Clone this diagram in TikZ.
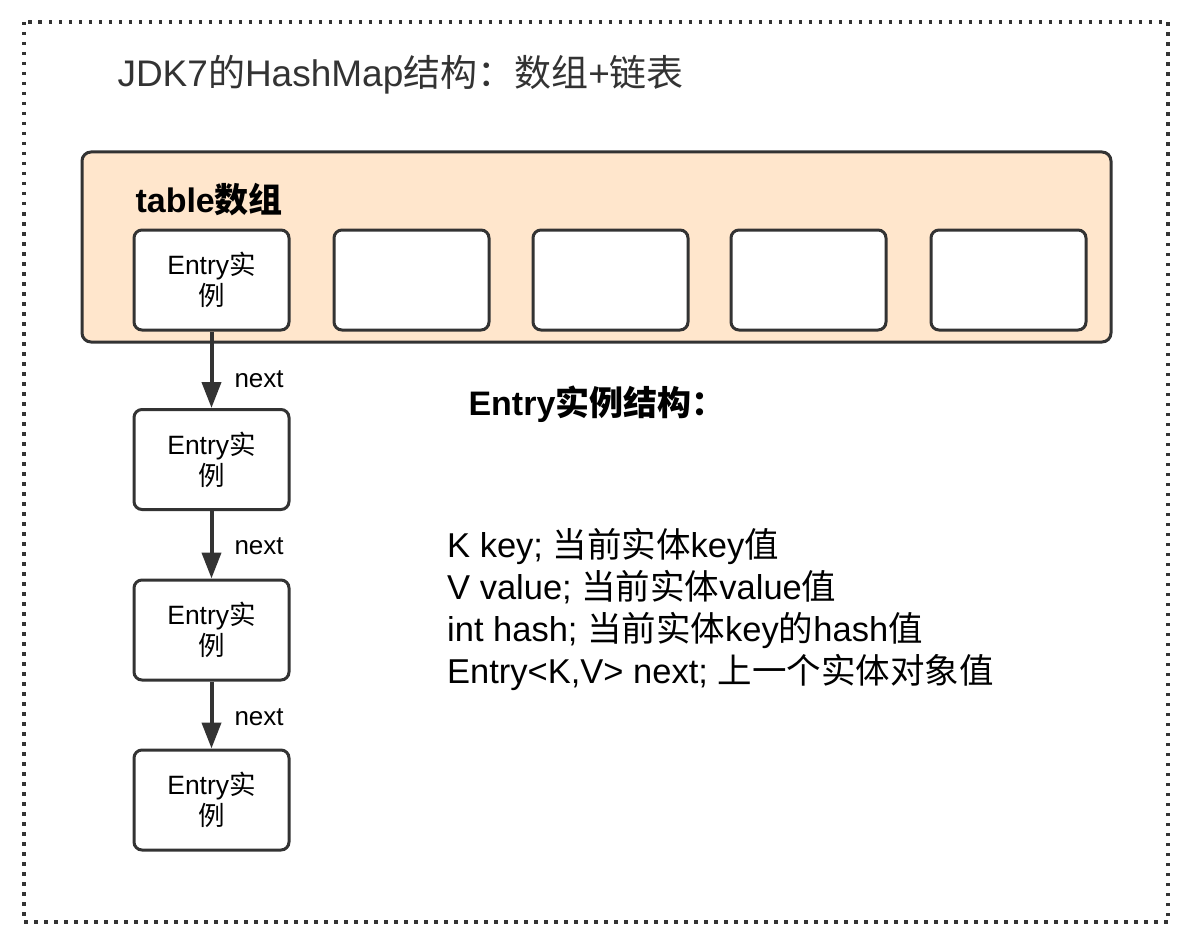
\documentclass[tikz,border=0pt]{standalone}
\usepackage{fontspec}
\setmainfont{Liberation Sans}
\newfontfamily\cjk{Noto Sans CJK SC}
\usetikzlibrary{arrows.meta}
\definecolor{ink}{HTML}{333333}
\definecolor{peach}{HTML}{FFE6CC}
\newcommand{\zh}[1]{{\cjk #1}}
\begin{document}
\begin{tikzpicture}[x=1pt,y=-1pt,
  entrybox/.style={draw=ink,line width=3pt,rounded corners=8pt,fill=white,
    minimum width=155pt,minimum height=100pt,align=center,
    font=\fontsize{26.5}{31}\selectfont,text=black},
  link/.style={draw=ink,line width=4pt,-{Triangle[length=26pt,width=19pt]}},
  nextlbl/.style={font=\fontsize{26}{28}\selectfont,text=black,anchor=west}]
\useasboundingbox (0,0) rectangle (1196,952);
\fill[white] (0,0) rectangle (1196,952);
\draw[ink,line width=3.5pt,dash pattern=on 3.5pt off 6.5pt] (24,22) rectangle (1168,922);
\node[anchor=west,font=\fontsize{37}{42}\selectfont,text=ink] (title) at (114,75)
  {JDK7\zh{的}HashMap\zh{结构：数组}+\zh{链表}};
\draw[ink,line width=3pt,fill=peach,rounded corners=9pt] (82,152) rectangle (1111,342);
\node[anchor=west,font=\bfseries\fontsize{34}{38}\selectfont,text=black] (tlabel) at (132,200)
  {table\zh{\bfseries 数组}};
\node[entrybox] (e0) at (211.5,280) {Entry\zh{实}\\\zh{例}};
\node[entrybox] (e1) at (411.5,280) {};
\node[entrybox] (e2) at (610.5,280) {};
\node[entrybox] (e3) at (808.5,280) {};
\node[entrybox] (e4) at (1008.5,280) {};
\node[entrybox] (c1) at (211.5,459.5) {Entry\zh{实}\\\zh{例}};
\node[entrybox] (c2) at (211.5,630) {Entry\zh{实}\\\zh{例}};
\node[entrybox] (c3) at (211.5,800) {Entry\zh{实}\\\zh{例}};
\draw[link] (e0) -- (c1);
\draw[link] (c1) -- (c2);
\draw[link] (c2) -- (c3);
\node[nextlbl] (n1) at (231,379) {next};
\node[nextlbl] (n2) at (231,546) {next};
\node[nextlbl] (n3) at (231,717) {next};
\node[anchor=west,font=\bfseries\fontsize{34}{38}\selectfont,text=black] (stitle) at (465,404)
  {Entry\zh{\bfseries 实例结构：}};
\node[anchor=north west,align=left,font=\fontsize{34.5}{42}\selectfont,text=black,inner sep=0pt] (body) at (447,528)
  {K key; \zh{当前实体}key\zh{值}\\
   V value; \zh{当前实体}value\zh{值}\\
   int hash; \zh{当前实体}key\zh{的}hash\zh{值}\\
   Entry<K,V> next; \zh{上一个实体对象值}};
\end{tikzpicture}
\end{document}
